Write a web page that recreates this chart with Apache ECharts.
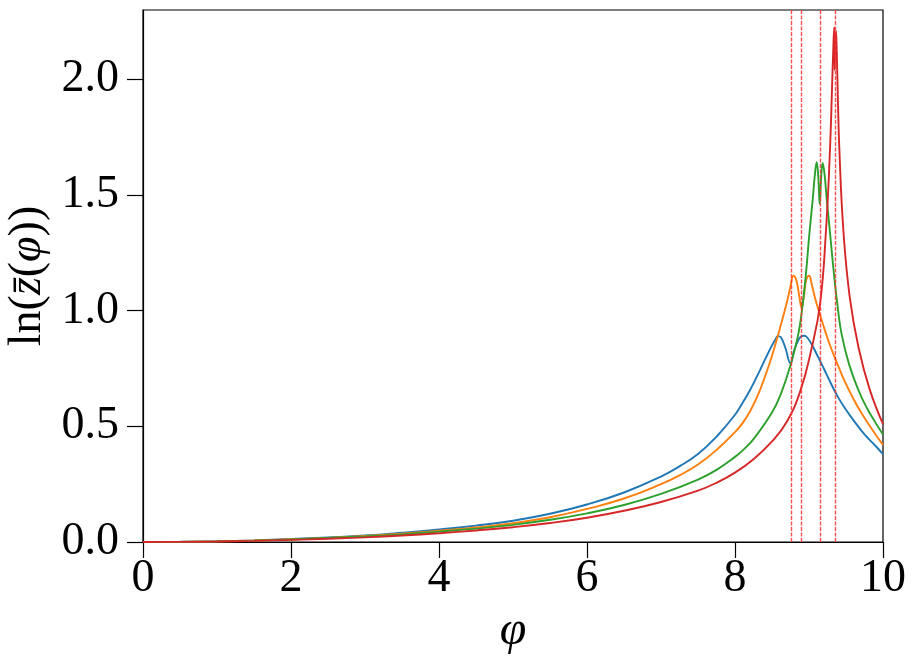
<!DOCTYPE html>
<html>
<head>
<meta charset="utf-8">
<script src="https://cdn.jsdelivr.net/npm/echarts@6/dist/echarts.min.js"></script>
<style>
html,body{margin:0;padding:0;background:#fff;}
#chart{width:914px;height:665px;}
</style>
</head>
<body>
<div id="chart"></div>
<script>
// ---- data ----
const xTicks = [0, 2, 4, 6, 8, 10];
const yTicks = [0, 0.5, 1.0, 1.5, 2.0];

const phiBlue = [0,0.5,1,1.5,2,2.5,3,3.5,4,4.5,5,5.5,6,6.5,7,7.25,7.5,7.75,8,8.1,8.2,8.3,8.4,8.5,8.55,8.58,8.62,8.68,8.75,8.8,8.86,8.9,8.94,8.98,9.03,9.1,9.2,9.3,9.4,9.5,9.6,9.75,9.9,10];
const lnBlue  = [0,0.0008,0.003,0.007,0.013,0.02,0.028,0.04,0.054,0.071,0.092,0.122,0.162,0.214,0.283,0.327,0.38,0.455,0.55,0.6,0.655,0.718,0.785,0.85,0.878,0.89,0.885,0.84,0.772,0.83,0.875,0.89,0.892,0.882,0.858,0.815,0.75,0.683,0.622,0.572,0.527,0.465,0.415,0.38];

const phiOrange = [0,0.5,1,1.5,2,2.5,3,3.5,4,4.5,5,5.5,6,6.5,7,7.25,7.5,7.75,8,8.1,8.2,8.3,8.4,8.5,8.6,8.7,8.75,8.79,8.83,8.87,8.9,8.93,8.96,9.0,9.04,9.09,9.19,9.29,9.39,9.49,9.59,9.69,9.79,9.9,10];
const lnOrange  = [0,0.0007,0.0028,0.0065,0.012,0.018,0.026,0.036,0.049,0.063,0.081,0.107,0.143,0.188,0.25,0.288,0.335,0.398,0.475,0.513,0.563,0.628,0.71,0.805,0.915,1.035,1.105,1.151,1.13,1.06,1.013,1.06,1.13,1.151,1.11,1.045,0.94,0.845,0.765,0.69,0.625,0.567,0.517,0.465,0.42];

const phiGreen = [0,0.5,1,1.5,2,2.5,3,3.5,4,4.5,5,5.5,6,6.5,7,7.5,7.75,8,8.1,8.25,8.5,8.62,8.75,8.85,8.9,8.95,9.01,9.05,9.08,9.104,9.125,9.145,9.165,9.185,9.21,9.24,9.28,9.34,9.39,9.44,9.54,9.67,9.79,9.9,10];
const lnGreen  = [0,0.0006,0.0025,0.0058,0.011,0.017,0.024,0.033,0.045,0.058,0.074,0.096,0.124,0.16,0.208,0.27,0.312,0.368,0.395,0.445,0.56,0.64,0.765,0.89,0.99,1.13,1.35,1.48,1.59,1.642,1.58,1.461,1.58,1.639,1.59,1.48,1.35,1.15,1.01,0.9,0.77,0.655,0.575,0.515,0.465];

const phiRed = [0,0.5,1,1.5,2,2.5,3,3.5,4,4.5,5,5.5,6,6.5,7,7.5,7.75,8,8.25,8.5,8.7,8.88,9.03,9.15,9.23,9.284,9.31,9.33,9.34,9.347,9.355,9.365,9.375,9.39,9.41,9.464,9.55,9.67,9.82,10];
const lnRed  = [0,0.0006,0.0022,0.005,0.009,0.014,0.02,0.028,0.038,0.05,0.064,0.082,0.105,0.135,0.173,0.222,0.256,0.3,0.358,0.435,0.52,0.65,0.83,1.03,1.35,1.70,1.95,2.15,2.226,2.04,2.15,2.21,2.12,1.92,1.70,1.35,1.06,0.84,0.66,0.51];

const vLines = [8.76, 8.90, 9.15, 9.36];

// ---- chart ----
const FONT = 'Liberation Serif';
const pair = (xs, ys) => xs.map((x, i) => [x, ys[i]]);
const chart = echarts.init(document.getElementById('chart'), null, {renderer: 'canvas'});

function lineSeries(xs, ys, color) {
  return {
    type: 'line', data: pair(xs, ys), showSymbol: false, symbol: 'none',
    smooth: 0.45, lineStyle: {color: color, width: 1.9}, itemStyle: {color: color},
    animation: false, silent: true, clip: true
  };
}

const s1 = lineSeries(phiBlue, lnBlue, '#1f77b4');
const s2 = lineSeries(phiOrange, lnOrange, '#ff7f0e');
const s3 = lineSeries(phiGreen, lnGreen, '#2ca02c');
const s4 = lineSeries(phiRed, lnRed, '#d62728');
const dashStyle = {color: '#ff3030', width: 1.4, opacity: 0.85, type: [4, 1.5]};
s4.markLine = {
  silent: true, symbol: ['none', 'none'], animation: false, precision: 4,
  label: {show: false},
  emphasis: {disabled: true},
  lineStyle: dashStyle,
  data: vLines.map(v => ({xAxis: v, lineStyle: dashStyle}))
};

chart.setOption({
  backgroundColor: '#fff',
  animation: false,
  grid: {left: 143, right: 31, top: 10, bottom: 123, show: true, borderColor: '#000', borderWidth: 1.2,
         backgroundColor: 'transparent', containLabel: false, outerBoundsMode: 'none'},
  xAxis: {
    type: 'value', min: 0, max: 10, interval: 2,
    name: 'φ', nameLocation: 'middle', nameGap: 62,
    nameTextStyle: {fontFamily: FONT, fontSize: 48, fontStyle: 'italic', color: '#000'},
    axisLine: {show: true, onZero: false, lineStyle: {color: '#000', width: 1.2}},
    axisTick: {show: true, inside: false, length: 16, lineStyle: {color: '#000', width: 1.2}, customValues: xTicks},
    axisLabel: {fontFamily: FONT, fontSize: 46, color: '#000', margin: 14, customValues: xTicks,
      formatter: v => String(v)},
    splitLine: {show: false}
  },
  yAxis: {
    type: 'value', min: 0, max: 2.3, interval: 0.5,
    name: '{r|ln(}{i|z\u0304}{r|(}{i|φ}{r|))}', nameLocation: 'middle', nameGap: 88, nameRotate: 90,
    nameTextStyle: {fontFamily: FONT, fontSize: 46, color: '#000',
      rich: {r: {fontFamily: FONT, fontSize: 46, color: '#000'},
             i: {fontFamily: FONT, fontSize: 46, fontStyle: 'italic', color: '#000'}}},
    axisLine: {show: true, onZero: false, lineStyle: {color: '#000', width: 1.2}},
    axisTick: {show: true, inside: false, length: 16, lineStyle: {color: '#000', width: 1.2}, customValues: yTicks},
    axisLabel: {fontFamily: FONT, fontSize: 46, color: '#000', margin: 24, customValues: yTicks,
      formatter: v => v.toFixed(1)},
    splitLine: {show: false}
  },
  series: [s1, s2, s3, s4]
});
</script>
</body>
</html>
